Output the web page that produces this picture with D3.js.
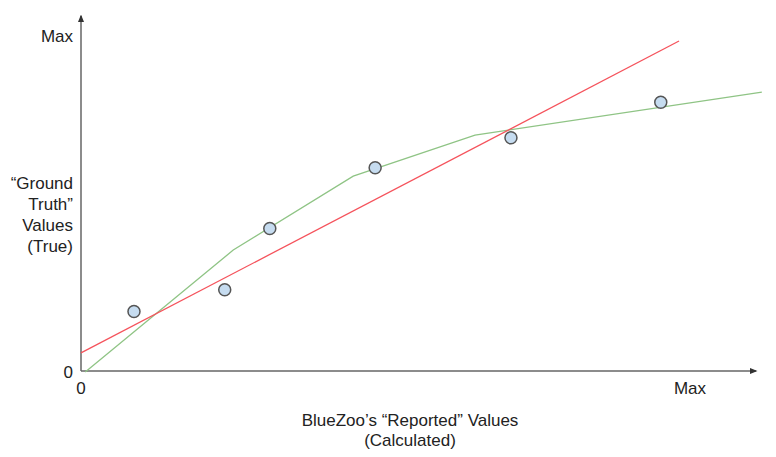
<!DOCTYPE html>
<html>
<head>
<meta charset="utf-8">
<script src="https://cdn.jsdelivr.net/npm/d3@7"></script>
<style>
  body { margin: 0; background: #fff; }
  svg { display: block; font-family: "Liberation Sans", Arial, sans-serif; }
  .lbl { fill: #222; font-size: 17px; }
</style>
</head>
<body>
<svg id="chart" width="776" height="457"></svg>
<script>
// Values on a 0..100 scale (0 = "0", 100 = "Max")
const reported = [8.7, 23.6, 31.0, 48.3, 70.6, 95.2];
const truth = [17.7, 24.2, 42.4, 60.5, 69.4, 80.0];

// green curve vertices
const curveX = [0.7, 25.0, 44.7, 64.7, 111.8];
const curveY = [-0.3, 36.0, 58.0, 70.2, 83.0];

// red fit line endpoints
const fitX = [0, 98.2];
const fitY = [5.4, 98.2];

const tickVals = [0, 100];
const tickLabels = ['0', 'Max'];
const yTitle = ['\u201CGround', 'Truth\u201D', 'Values', '(True)'];
const xTitle = ['BlueZoo\u2019s \u201CReported\u201D Values', '(Calculated)'];

const svg = d3.select('#chart');

const x = d3.scaleLinear().domain([0, 100]).range([81, 690]);
const y = d3.scaleLinear().domain([0, 100]).range([371, 35]);

// arrow heads
svg.append('defs').append('marker')
  .attr('id', 'arrow')
  .attr('viewBox', '0 0 10 10')
  .attr('refX', 8).attr('refY', 5)
  .attr('markerWidth', 5).attr('markerHeight', 5)
  .attr('orient', 'auto')
  .append('path')
  .attr('d', 'M0,1 L10,5 L0,9 z')
  .attr('fill', '#333');

// axes
svg.append('line')
  .attr('x1', x(0)).attr('y1', y(0))
  .attr('x2', x(0)).attr('y2', y(0) - 355)
  .attr('stroke', '#666').attr('stroke-width', 1.5)
  .attr('marker-end', 'url(#arrow)');

svg.append('line')
  .attr('x1', x(0)).attr('y1', y(0))
  .attr('x2', x(0) + 675).attr('y2', y(0))
  .attr('stroke', '#666').attr('stroke-width', 1.5)
  .attr('marker-end', 'url(#arrow)');

// tick labels
svg.selectAll('.ytick')
  .data(tickVals)
  .join('text')
  .attr('class', 'lbl ytick')
  .attr('x', 73)
  .attr('y', d => y(d) + 7)
  .attr('text-anchor', 'end')
  .text((d, i) => tickLabels[i]);

svg.selectAll('.xtick')
  .data(tickVals)
  .join('text')
  .attr('class', 'lbl xtick')
  .attr('x', d => x(d))
  .attr('y', 394)
  .attr('text-anchor', 'middle')
  .text((d, i) => tickLabels[i]);

// axis titles
svg.append('text')
  .attr('class', 'lbl')
  .attr('text-anchor', 'end')
  .selectAll('tspan')
  .data(yTitle)
  .join('tspan')
  .attr('x', 73)
  .attr('y', (d, i) => 189 + i * 21)
  .text(d => d);

svg.append('text')
  .attr('class', 'lbl')
  .attr('text-anchor', 'middle')
  .selectAll('tspan')
  .data(xTitle)
  .join('tspan')
  .attr('x', 410)
  .attr('y', (d, i) => 426 + i * 20)
  .text(d => d);

// green curve
const line = d3.line().x(d => x(d[0])).y(d => y(d[1]));

svg.append('path')
  .datum(d3.zip(curveX, curveY))
  .attr('d', line)
  .attr('fill', 'none')
  .attr('stroke', '#8fc485')
  .attr('stroke-width', 1.3);

// red fit
svg.append('path')
  .datum(d3.zip(fitX, fitY))
  .attr('d', line)
  .attr('fill', 'none')
  .attr('stroke', '#f5535c')
  .attr('stroke-width', 1.3);

// points
svg.selectAll('.pt')
  .data(d3.zip(reported, truth))
  .join('circle')
  .attr('class', 'pt')
  .attr('cx', d => x(d[0]))
  .attr('cy', d => y(d[1]))
  .attr('r', 6)
  .attr('fill', '#c6dcf0')
  .attr('stroke', '#555')
  .attr('stroke-width', 1.5);
</script>
</body>
</html>
